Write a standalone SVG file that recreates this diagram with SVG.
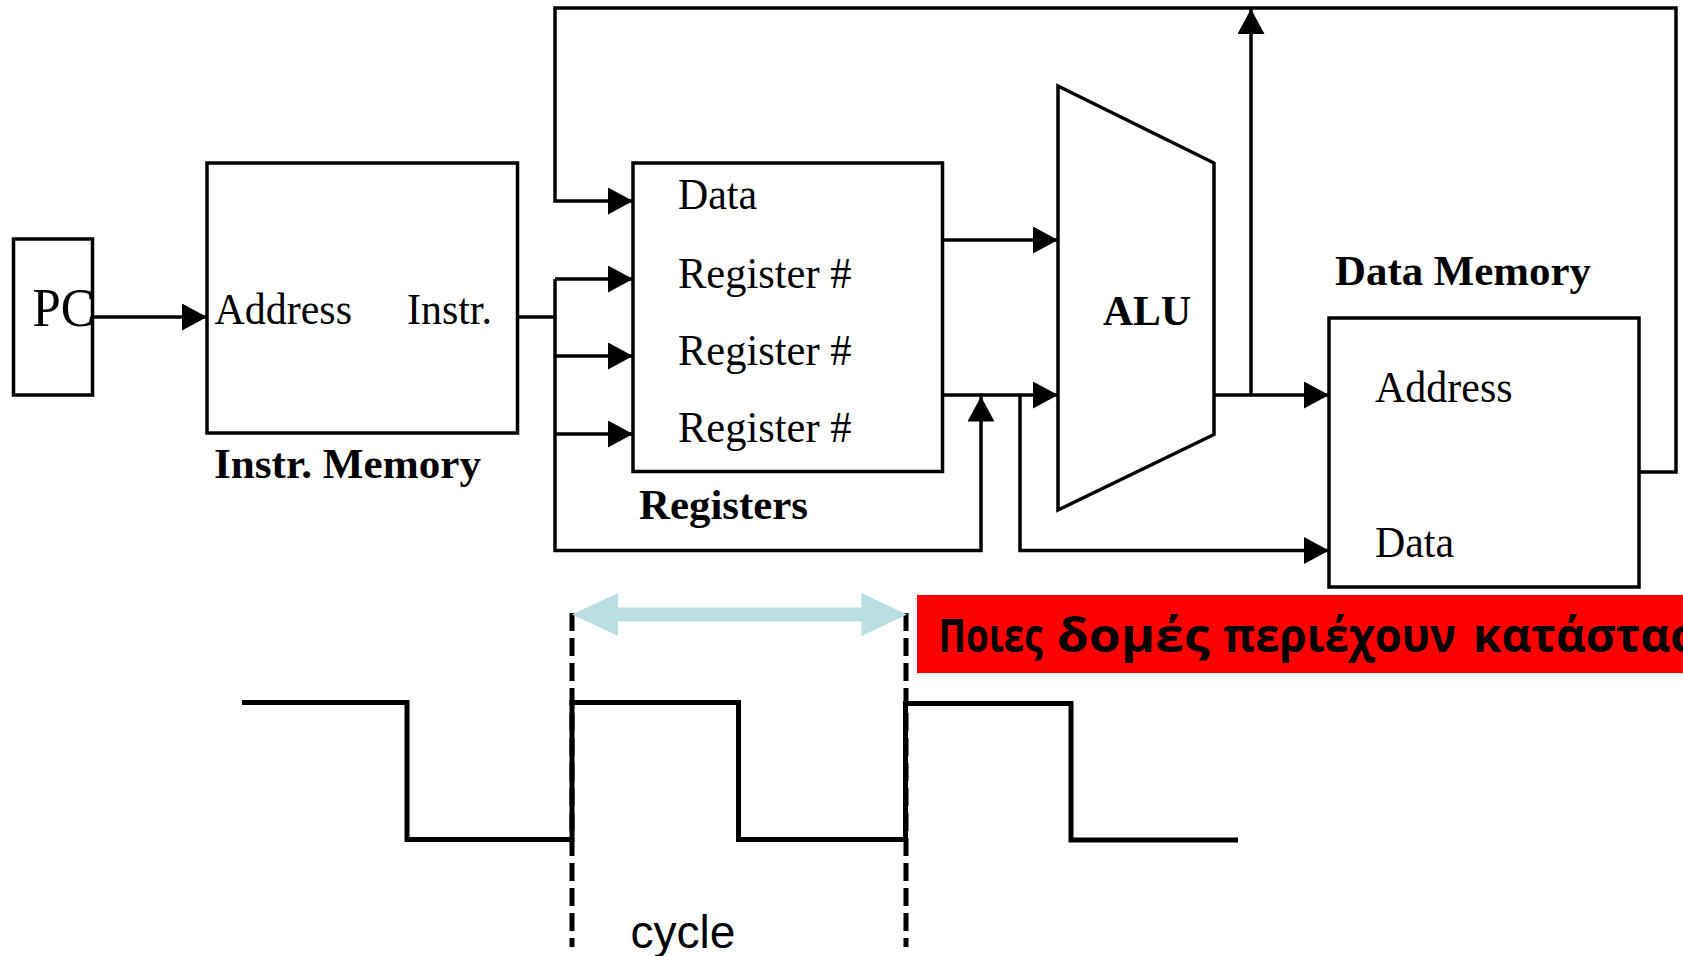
<svg xmlns="http://www.w3.org/2000/svg" width="1683" height="956" viewBox="0 0 1683 956">
<style>
.box{fill:#fff;stroke:#000;stroke-width:3.5}
.ln{fill:none;stroke:#000;stroke-width:3.5}
.t{font-family:"Liberation Serif","Times New Roman",serif;font-size:44px;fill:#000}
.b{font-family:"Liberation Serif","Times New Roman",serif;font-size:43px;font-weight:bold;fill:#000}
.clk{fill:none;stroke:#000;stroke-width:5}
.dash{fill:none;stroke:#000;stroke-width:5;stroke-dasharray:18 7}
.q{font-family:"Open Sans","Noto Sans","DejaVu Sans",sans-serif;font-size:46px;font-weight:bold;fill:#000}
</style>
<defs>
<marker id="ah" markerUnits="userSpaceOnUse" markerWidth="25" markerHeight="27" refX="25" refY="13.5" orient="auto" viewBox="0 0 25 27">
<path d="M0,0 L25,13.5 L0,27 Z" fill="#000"/>
</marker>
<clipPath id="redclip"><rect x="917" y="595" width="766" height="78"/></clipPath>
</defs>
<rect width="1683" height="956" fill="#fff"/>

<g id="connectors">
<path class="ln" d="M92,317 H207" marker-end="url(#ah)"/>
<path class="ln" d="M517,317 H555"/>
<path class="ln" d="M555,279 V550.5 H981 V396.5" marker-end="url(#ah)"/>
<path class="ln" d="M555,279 H633" marker-end="url(#ah)"/>
<path class="ln" d="M555,356 H633" marker-end="url(#ah)"/>
<path class="ln" d="M555,434 H633" marker-end="url(#ah)"/>
<path class="ln" d="M1639,472 H1676 V8 H555 V201 H633" marker-end="url(#ah)"/>
<path class="ln" d="M942,240 H1058" marker-end="url(#ah)"/>
<path class="ln" d="M942,395 H1058" marker-end="url(#ah)"/>
<path class="ln" d="M1020,395 V550.5 H1329" marker-end="url(#ah)"/>
<path class="ln" d="M1214,395 H1329" marker-end="url(#ah)"/>
<path class="ln" d="M1251,395 V9" marker-end="url(#ah)"/>
</g>

<g id="pc">
<rect class="box" x="13.5" y="239" width="79" height="156" fill="none"/>
<text class="t" x="32.5" y="325.5" style="font-size:54px" textLength="62" lengthAdjust="spacingAndGlyphs">PC</text>
</g>

<g id="instr-memory">
<rect class="box" x="207" y="163" width="310.5" height="270"/>
<text class="t" x="214.5" y="324" textLength="137.5" lengthAdjust="spacingAndGlyphs">Address</text>
<text class="t" x="407" y="324" textLength="85" lengthAdjust="spacingAndGlyphs">Instr.</text>
<text class="b" x="214" y="478" textLength="267" lengthAdjust="spacingAndGlyphs">Instr. Memory</text>
</g>

<g id="registers">
<rect class="box" x="633" y="163" width="309.5" height="308.5"/>
<text class="t" x="678" y="209" textLength="79" lengthAdjust="spacingAndGlyphs">Data</text>
<text class="t" x="678" y="287.5" textLength="173.5" lengthAdjust="spacingAndGlyphs">Register #</text>
<text class="t" x="678" y="365" textLength="173.5" lengthAdjust="spacingAndGlyphs">Register #</text>
<text class="t" x="678" y="442" textLength="173.5" lengthAdjust="spacingAndGlyphs">Register #</text>
<text class="b" x="639" y="519" textLength="169" lengthAdjust="spacingAndGlyphs">Registers</text>
</g>

<g id="alu">
<polygon class="box" points="1058,86 1214,163 1214,434.5 1058,510"/>
<text class="b" x="1103" y="325" textLength="88" lengthAdjust="spacingAndGlyphs">ALU</text>
</g>

<g id="data-memory">
<rect class="box" x="1329" y="318" width="310" height="269"/>
<text class="b" x="1335" y="285" textLength="256" lengthAdjust="spacingAndGlyphs">Data Memory</text>
<text class="t" x="1375" y="402" textLength="137.6" lengthAdjust="spacingAndGlyphs">Address</text>
<text class="t" x="1375" y="557" textLength="79" lengthAdjust="spacingAndGlyphs">Data</text>
</g>

<g id="clock">
<polyline class="clk" points="242,702.5 407,702.5 407,839.5 572,839.5 572,702.5 738.5,702.5 738.5,839.5 905.5,839.5 905.5,703.5 1071,703.5 1071,840 1238,840"/>
<line class="dash" x1="572" y1="613" x2="572" y2="947"/>
<line class="dash" x1="906" y1="613" x2="906" y2="947"/>
<polygon fill="#B9DFE3" points="572,614.5 618,593 618,607.5 861.5,607.5 861.5,593 907,614.5 861.5,636 861.5,621.5 618,621.5 618,636"/>
<text x="630.5" y="948" style="font-family:'Liberation Sans',Arial,sans-serif;font-size:47px" textLength="105" lengthAdjust="spacingAndGlyphs" fill="#000">cycle</text>
</g>

<g id="question">
<rect x="917" y="595" width="766" height="78" fill="#FF0000"/>
<g clip-path="url(#redclip)">
<text class="q" y="652"><tspan x="938.5" textLength="104" lengthAdjust="spacingAndGlyphs">Ποιες</tspan><tspan x="1057" textLength="153" lengthAdjust="spacingAndGlyphs">δομές</tspan><tspan x="1223" textLength="233" lengthAdjust="spacingAndGlyphs">περιέχουν</tspan><tspan x="1473">κατάσταση;</tspan></text>
</g>
</g>
</svg>
